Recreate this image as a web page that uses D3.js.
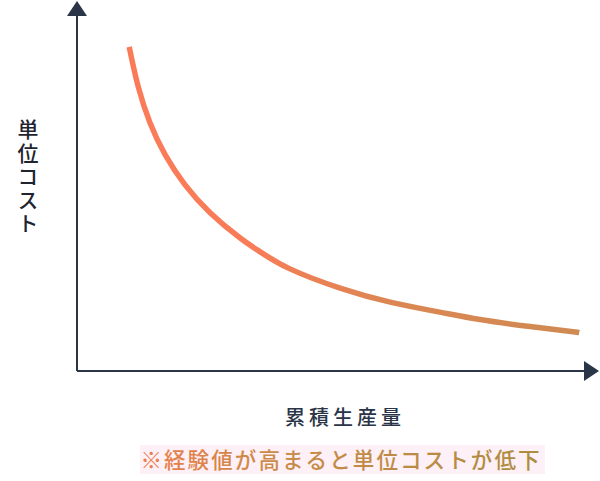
<!DOCTYPE html>
<html>
<head>
<meta charset="utf-8">
<script src="https://cdnjs.cloudflare.com/ajax/libs/d3/7.8.5/d3.min.js"></script>
<style>
  html, body { margin: 0; padding: 0; background: #fff; }
  svg { display: block; font-family: "Noto Sans CJK JP", "Noto Sans", sans-serif; }
</style>
</head>
<body>
<svg id="chart"></svg>
<script>
// cumulative production (0-100) and unit cost (0-100)
const production = [10.0, 11.7, 14.0, 16.9, 20.7, 25.5, 31.2, 35.1, 40.8, 50.4, 60.0, 69.5, 77.2, 86.8, 96.2];
const unitCost   = [87.6, 77.0, 67.0, 58.4, 50.3, 42.8, 36.0, 32.2, 27.6, 22.4, 18.6, 15.9, 13.9, 12.0, 10.4];

const xLabel = "累積生産量";
const yLabel = "単位コスト";
const note = "※経験値が高まると単位コストが低下";

const width = 600, height = 481;

const svg = d3.select("#chart")
    .attr("width", width)
    .attr("height", height);

const x = d3.scaleLinear().domain([0, 100]).range([77, 599]);
const y = d3.scaleLinear().domain([0, 100]).range([371, 1]);

// axis lines stop at the arrow base, arrowheads carry on to the scale end
const xa = d3.scaleLinear().domain([0, 100]).range([77, 585]);
const ya = d3.scaleLinear().domain([0, 100]).range([371, 15]);

const axisColor = "#2b3548";

svg.append("g")
    .attr("transform", `translate(0, ${y(0)})`)
    .call(d3.axisBottom(xa).tickValues([]).tickSizeOuter(0).offset(0))
    .call(g => g.select(".domain").attr("stroke", axisColor).attr("stroke-width", 2));

svg.append("g")
    .attr("transform", `translate(${x(0)}, 0)`)
    .call(d3.axisLeft(ya).tickValues([]).tickSizeOuter(0).offset(0))
    .call(g => g.select(".domain").attr("stroke", axisColor).attr("stroke-width", 2));

// arrowheads
svg.append("path")
    .attr("d", `M${xa(100) - 1},${y(0) - 10}L${x(100)},${y(0)}L${xa(100) - 1},${y(0) + 10}Z`)
    .attr("fill", axisColor);

svg.append("path")
    .attr("d", `M${x(0) - 10},${ya(100) + 1}L${x(0)},${y(100)}L${x(0) + 10},${ya(100) + 1}Z`)
    .attr("fill", axisColor);

// gradients
const defs = svg.append("defs");
const grad = defs.append("linearGradient")
    .attr("id", "curveGrad")
    .attr("gradientUnits", "userSpaceOnUse")
    .attr("x1", x(production[0])).attr("x2", x(production[production.length - 1]))
    .attr("y1", 0).attr("y2", 0);
grad.append("stop").attr("offset", "0%").attr("stop-color", "#fb7b58");
grad.append("stop").attr("offset", "28%").attr("stop-color", "#f77c57");
grad.append("stop").attr("offset", "55%").attr("stop-color", "#dd8653");
grad.append("stop").attr("offset", "100%").attr("stop-color", "#cf8a52");

const textGrad = defs.append("linearGradient")
    .attr("id", "textGrad")
    .attr("gradientUnits", "userSpaceOnUse")
    .attr("x1", 143).attr("x2", 540)
    .attr("y1", 0).attr("y2", 0);
textGrad.append("stop").attr("offset", "0%").attr("stop-color", "#ec7d4e");
textGrad.append("stop").attr("offset", "30%").attr("stop-color", "#cc8a48");
textGrad.append("stop").attr("offset", "100%").attr("stop-color", "#ad8c3f");

// curve
const data = production.map((p, i) => ({p, c: unitCost[i]}));

const line = d3.line()
    .x(d => x(d.p))
    .y(d => y(d.c))
    .curve(d3.curveNatural);

svg.append("path")
    .datum(data)
    .attr("d", line)
    .attr("fill", "none")
    .attr("stroke", "url(#curveGrad)")
    .attr("stroke-width", 5.5);

// y label, written top to bottom
svg.append("text")
    .attr("x", 28)
    .attr("y", 119)
    .attr("writing-mode", "vertical-rl")
    .style("text-orientation", "upright")
    .attr("font-size", 21)
    .attr("font-weight", 500)
    .attr("letter-spacing", 2.5)
    .attr("fill", "#1f2430")
    .text(yLabel);

// x label
svg.append("text")
    .attr("x", 345)
    .attr("y", 425)
    .attr("text-anchor", "middle")
    .attr("font-size", 20)
    .attr("font-weight", 500)
    .attr("letter-spacing", 4)
    .attr("fill", "#2b3548")
    .text(xLabel);

// note with faint highlight
svg.append("rect")
    .attr("x", 140).attr("y", 445)
    .attr("width", 405).attr("height", 29)
    .attr("fill", "#fdf0f7");

svg.append("text")
    .attr("x", 341)
    .attr("y", 468)
    .attr("text-anchor", "middle")
    .attr("font-size", 21.5)
    .attr("font-weight", 500)
    .attr("letter-spacing", 2.1)
    .attr("fill", "url(#textGrad)")
    .text(note);
</script>
</body>
</html>
